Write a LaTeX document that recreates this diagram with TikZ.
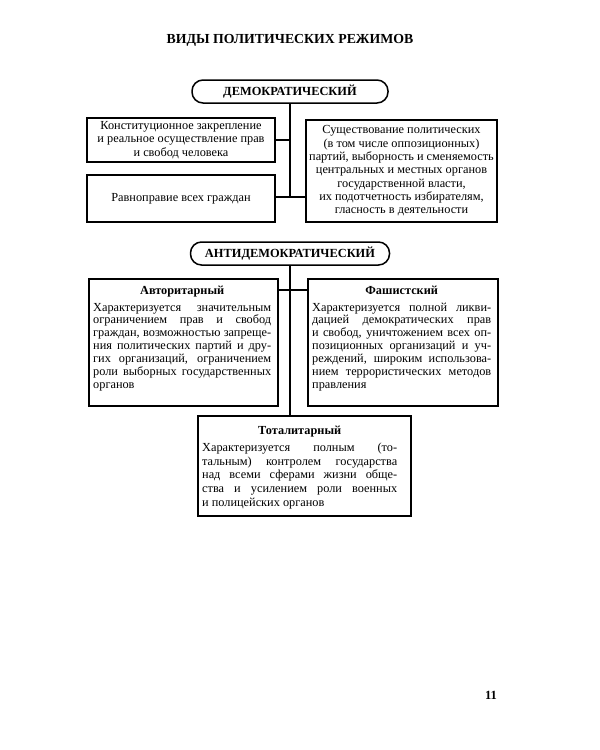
\documentclass[tikz,border=0pt]{standalone}
\usepackage{fontspec}
\setmainfont{Liberation Serif}
\usetikzlibrary{calc}
\newcommand\jl[1]{\hbox to \linewidth{#1}}
\newcommand\lastln[1]{\hbox{#1}}
\newcommand\ttl[1]{\hbox to \linewidth{\hfil\textbf{#1}\hfil}\vspace{3.5pt}}
\tikzset{
  box/.style={draw, line width=1.5pt, rectangle, inner sep=0pt, font=\fontsize{12.3}{13.3}\selectfont},
  oval/.style={draw, line width=1.5pt, rounded corners=11pt, inner sep=0pt, minimum height=23pt, font=\fontsize{12.4}{13}\selectfont\bfseries},
  conn/.style={line width=1.5pt},
  body/.style={anchor=north west, inner sep=0pt, font=\fontsize{12.3}{12.9}\selectfont}
}
\begin{document}
\begin{tikzpicture}[x=1pt,y=-1pt]
\useasboundingbox (0,0) rectangle (600,750);
\node[font=\fontsize{13.8}{15}\selectfont\bfseries] (title) at (290,40) {ВИДЫ ПОЛИТИЧЕСКИХ РЕЖИМОВ};
\node[oval, minimum width=196pt] (dem) at (290,91.5) {ДЕМОКРАТИЧЕСКИЙ};
\node[box, minimum width=188pt, minimum height=44pt, align=center] (l1) at (181,140) {Конституционное закрепление\\и реальное осуществление прав\\и свобод человека};
\node[box, minimum width=188pt, minimum height=47pt] (l2) at (181,198.5) {Равноправие всех граждан};
\node[box, minimum width=191pt, minimum height=102pt, align=center] (r) at (401.5,171) {Существование политических\\(в том числе оппозиционных)\\партий, выборность и сменяемость\\центральных и местных органов\\государственной власти,\\их подотчетность избирателям,\\гласность в деятельности};
\coordinate (j) at (290,197);
\draw[conn] (dem.south) -- (dem.south |- j);
\draw[conn] (l1.east) -- (l1.east -| dem.south);
\draw[conn] (l2.east |- j) -- (r.west |- j);

\node[oval, minimum width=199pt] (anti) at (290,253.5) {АНТИДЕМОКРАТИЧЕСКИЙ};
\node[box, minimum width=189pt, minimum height=127pt, anchor=north west] (avt) at (88,278) {};
\node[body] (avtt) at (93,286) {\begin{minipage}{178pt}
\ttl{Авторитарный}
\jl{Характеризуется значительным}
\jl{ограничением прав и свобод}
\jl{граждан, возможностью запреще-}
\jl{ния политических партий и дру-}
\jl{гих организаций, ограничением}
\jl{роли выборных государственных}
\lastln{органов}
\end{minipage}};
\node[box, minimum width=190pt, minimum height=127pt, anchor=north west] (fas) at (307,278) {};
\node[body] (fast) at (312,286) {\begin{minipage}{179pt}
\ttl{Фашистский}
\jl{Характеризуется полной ликви-}
\jl{дацией демократических прав}
\jl{и свобод, уничтожением всех оп-}
\jl{позиционных организаций и уч-}
\jl{реждений, широким использова-}
\jl{нием террористических методов}
\lastln{правления}
\end{minipage}};
\node[box, minimum width=213pt, minimum height=100pt, anchor=north west] (tot) at (197,415) {};
\node[body, font=\fontsize{12.3}{13.6}\selectfont] (tott) at (202,426) {\begin{minipage}{195pt}
\ttl{Тоталитарный}
\jl{Характеризуется полным (то-}
\jl{тальным) контролем государства}
\jl{над всеми сферами жизни обще-}
\jl{ства и усилением роли военных}
\lastln{и полицейских органов}
\end{minipage}};
\coordinate (h) at (0,290);
\draw[conn] (anti.south) -- (anti.south |- tot.north);
\draw[conn] (avt.east |- h) -- (fas.west |- h);
\node[font=\fontsize{12.5}{14}\selectfont\bfseries] (pg) at (491,695) {11};
\end{tikzpicture}
\end{document}
